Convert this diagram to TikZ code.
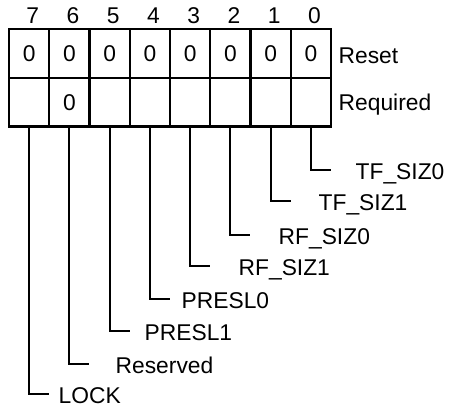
\documentclass[tikz,border=0pt]{standalone}
\usepackage{fontspec}
\setmainfont{Liberation Sans}
\usepackage{tikz}
\usetikzlibrary{positioning}
\tikzstyle{cell}=[draw, line width=2.4pt, minimum width=40.25pt, minimum height=48.5pt,
                  inner sep=0pt, outer sep=0pt]
\tikzstyle{leader}=[line width=2.2pt]
\tikzstyle{lbl}=[inner sep=0pt, anchor=base west]

\begin{document}
\begin{tikzpicture}[x=1pt, y=-1pt, font=\fontsize{22.8}{26}\selectfont]
  \useasboundingbox (0,0) rectangle (452,410);

  % Register cells and bit numbers
  \foreach \b in {7,...,0}{
    \pgfmathsetmacro{\cx}{29.125+40.25*(7-\b)}
    \node[cell] (r\b) at (\cx,53.5) {0};
    \node[cell] (q\b) at (\cx,102.25) {};
    \node[inner sep=0pt, anchor=base] (n\b) at (\cx+3.5,23) {\b};
  }
  \node[inner sep=0pt] (q6v) at (q6) {0};

  % Row names
  \node[lbl] (reset) at (338.5,63.5) {Reset};
  \node[lbl] (req)   at (338.5,110.5) {Required};

  % Field leaders
  \foreach \b/\ly/\lx/\txt in {0/170/357/TF\_SIZ0, 1/201/320/TF\_SIZ1, 2/235/280/RF\_SIZ0,
      3/266/240/RF\_SIZ1, 4/299/183/PRESL0, 5/331/146/PRESL1, 6/364/117/Reserved, 7/394/60/LOCK}{
    \pgfmathsetmacro{\cx}{29.125+40.25*(7-\b)}
    \coordinate (e\b) at (\cx+20,\ly);
    \draw[leader] (q\b.south) |- (e\b);
    \node[lbl] (f\b) at (\lx-1.5,\ly+9.5) {\txt};
  }
\end{tikzpicture}
\end{document}
